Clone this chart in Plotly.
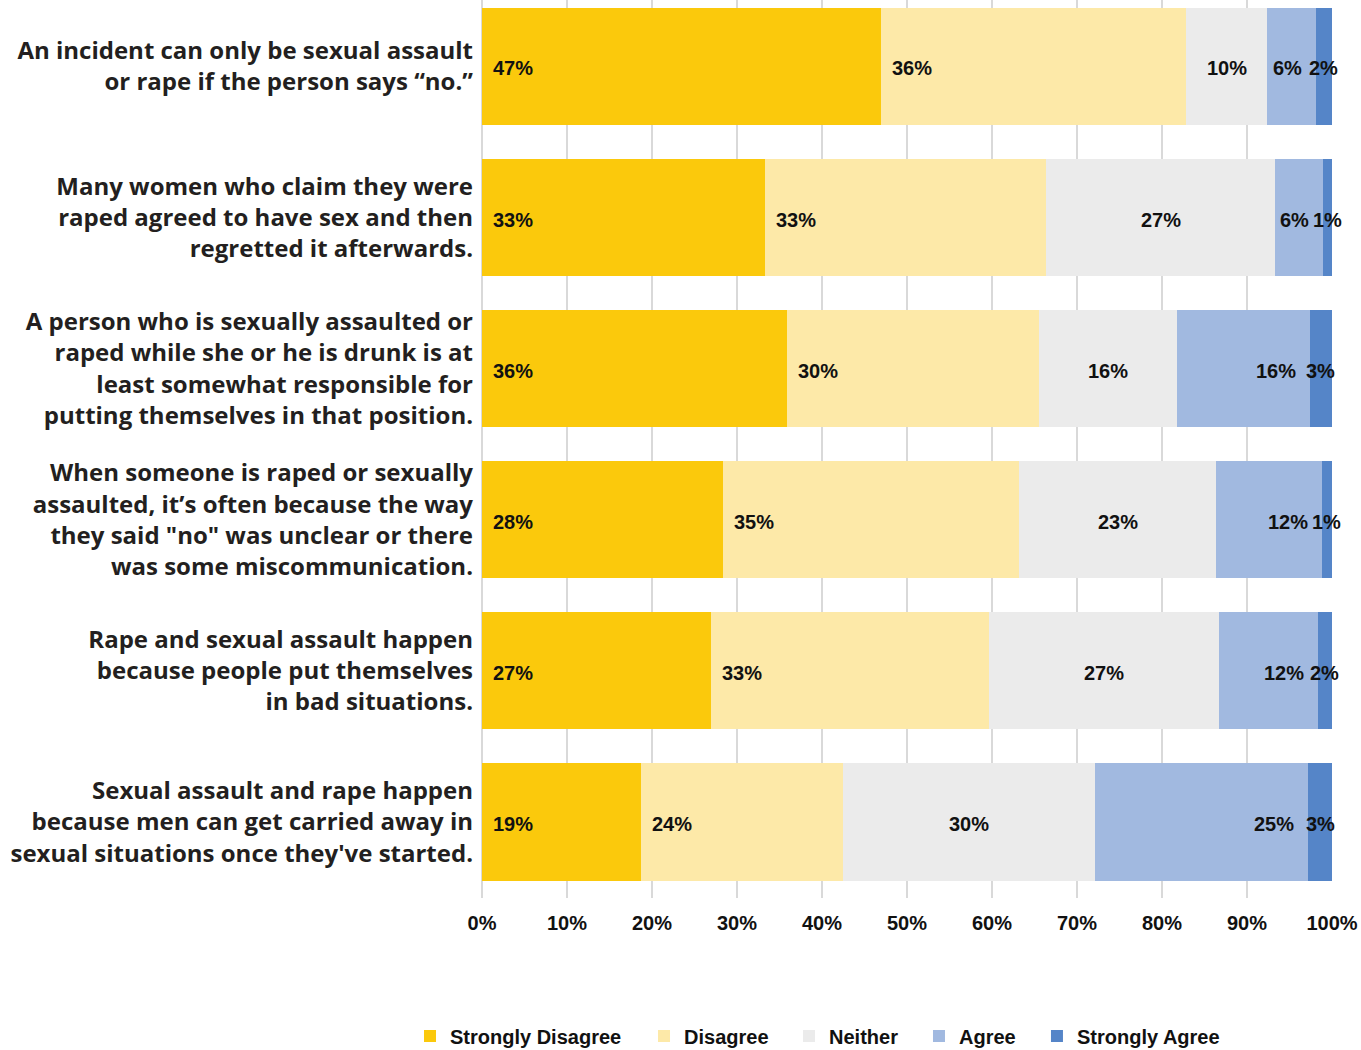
import plotly.graph_objects as go

categories = [
    "An incident can only be sexual assault<br>or rape if the person says “no.”",
    "Many women who claim they were<br>raped agreed to have sex and then<br>regretted it afterwards.",
    "A person who is sexually assaulted or<br>raped while she or he is drunk is at<br>least somewhat responsible for<br>putting themselves in that position.",
    "When someone is raped or sexually<br>assaulted, it’s often because the way<br>they said \"no\" was unclear or there<br>was some miscommunication.",
    "Rape and sexual assault happen<br>because people put themselves<br>in bad situations.",
    "Sexual assault and rape happen<br>because men can get carried away in<br>sexual situations once they've started.",
]

series_names = ["Strongly Disagree", "Disagree", "Neither", "Agree", "Strongly Agree"]
strongly_disagree = [46.9, 33.3, 35.9, 28.4, 26.9, 18.7]
disagree = [35.9, 33.1, 29.6, 34.8, 32.7, 23.8]
neither = [9.6, 26.9, 16.3, 23.2, 27.1, 29.6]
agree = [5.7, 5.6, 15.6, 12.4, 11.6, 25.1]
strongly_agree = [1.9, 1.1, 2.6, 1.2, 1.7, 2.8]

x_tickvals = [0, 10, 20, 30, 40, 50, 60, 70, 80, 90, 100]
x_ticktext = [f"{v}%" for v in x_tickvals]

series_values = [strongly_disagree, disagree, neither, agree, strongly_agree]
colors = ["#FBC90C", "#FDE9A8", "#EBEBEB", "#A1B9E0", "#5585C8"]
label_modes = ["start", "start", "middle", "end", "middle"]
# legend entry positions (paper x, left-anchored), one legend box per series
legend_x = [-0.0847, 0.1906, 0.3612, 0.5141, 0.6529]
legend_ids = ["legend", "legend2", "legend3", "legend4", "legend5"]

fig = go.Figure()
for name, vals, col, lid in zip(series_names, series_values, colors, legend_ids):
    fig.add_trace(go.Bar(
        y=categories, x=vals, name=name, orientation="h",
        marker=dict(color=col, line=dict(width=0)),
        width=0.775, hoverinfo="x+name", legend=lid,
    ))

label_font = dict(family="Liberation Sans, Arial, sans-serif", size=20, color="#111111", weight=700)
annotations = []
cum = [0.0] * len(categories)
for vals, mode in zip(series_values, label_modes):
    for i, v in enumerate(vals):
        start = cum[i]
        end = start + v
        if mode == "start":
            ax, xa, xs = start, "left", 9
        elif mode == "end":
            ax, xa, xs = end, "right", -12
        else:
            ax, xa, xs = (start + end) / 2, "center", 0
        annotations.append(dict(
            x=ax, y=categories[i], xref="x", yref="y",
            text=f"{round(v)}%", showarrow=False, xanchor=xa, xshift=xs, yshift=-2,
            yanchor="middle", font=label_font,
        ))
        cum[i] = end

legend_font = dict(family="Liberation Sans, Arial, sans-serif", size=20, color="#111111", weight=700)
legend_layouts = {}
for lid, lx in zip(legend_ids, legend_x):
    legend_layouts[lid] = dict(
        orientation="h", x=lx, xanchor="left", y=-0.1537, yanchor="middle",
        font=legend_font, itemwidth=30, bgcolor="rgba(0,0,0,0)",
    )

fig.update_layout(
    width=1361, height=1050,
    barmode="stack",
    plot_bgcolor="white", paper_bgcolor="white",
    margin=dict(l=482, r=29, t=0, b=152, autoexpand=False),
    annotations=annotations,
    showlegend=True,
    xaxis=dict(
        range=[0, 100], tickvals=x_tickvals, ticktext=x_ticktext,
        showgrid=True, gridcolor="#D9D9D9", gridwidth=1.5,
        zeroline=True, zerolinecolor="#D9D9D9", zerolinewidth=1.5,
        showline=False, ticks="", ticklabelstandoff=11,
        tickfont=dict(family="Liberation Sans, Arial, sans-serif", size=20, color="#111111", weight=700),
        fixedrange=True,
    ),
    yaxis=dict(
        categoryorder="array", categoryarray=categories,
        range=[5.503, -0.440],
        showgrid=False, zeroline=False, showline=False, ticks="",
        ticklabelstandoff=8,
        tickfont=dict(family="Open Sans, sans-serif", size=24, color="#231F20", weight=700),
        fixedrange=True,
    ),
    **legend_layouts,
)

# remove the browser's default 8px page margin so the figure fills the window exactly
fig.write_html(
    "out.html",
    config={"displayModeBar": False},
    post_script="document.body.style.margin='0';",
)
